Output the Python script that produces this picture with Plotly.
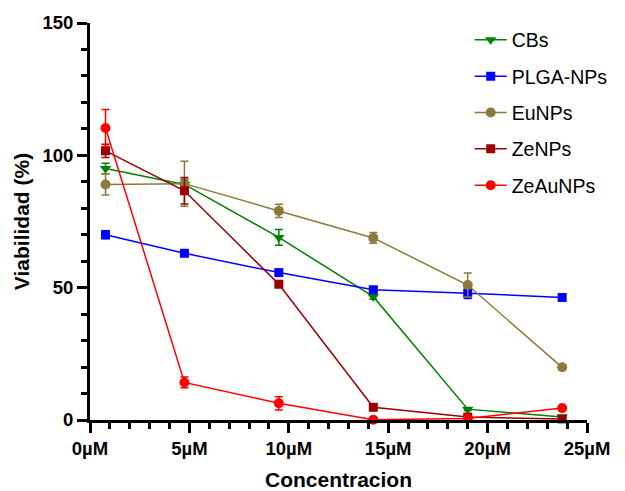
import plotly.graph_objects as go

conc = [0.78, 4.75, 9.5, 14.25, 19.0, 23.75]

series_names = ["CBs", "PLGA-NPs", "EuNPs", "ZeNPs", "ZeAuNPs"]
cbs = [95, 89, 69, 46.6, 4.1, 1.1]
cbs_err = [2, 2, 3, 1, 0.5, 0.5]
plga = [70, 63, 55.7, 49.2, 47.9, 46.3]
plga_err = [1.5, 1, 1, 1, 2, 1]
eunps = [89, 89.3, 79, 68.8, 51, 19.9]
eunps_err = [4, 8.5, 2.5, 2, 4.5, 1]
zenps = [101.7, 86.6, 51.3, 4.8, 1.1, 0.4]
zenps_err = [2.5, 5, 1, 0.5, 0.5, 0.3]
zeau = [110.3, 14.2, 6.3, 0.1, 0.6, 4.5]
zeau_err = [7, 2, 2.5, 0.3, 0.3, 0.5]

x_tickvals = [0, 5, 10, 15, 20, 25]
x_ticktext = ["0µM", "5µM", "10µM", "15µM", "20µM", "25µM"]
y_tickvals = [0, 50, 100, 150]

colors = ["#008000", "#0000FF", "#8C7A3C", "#990000", "#FF0000"]
symbols = ["triangle-down", "square", "circle", "square", "circle"]
values = [cbs, plga, eunps, zenps, zeau]
errors = [cbs_err, plga_err, eunps_err, zenps_err, zeau_err]

fig = go.Figure()
for name, vals, errs, col, sym in zip(series_names, values, errors, colors, symbols):
    fig.add_trace(go.Scatter(
        x=conc, y=vals, name=name, mode="lines+markers",
        line=dict(color=col, width=1.5),
        marker=dict(color=col, symbol=sym, size=10 if sym != "square" else 9),
        error_y=dict(type="data", array=errs, visible=True, color=col, thickness=1.5, width=4),
        cliponaxis=False, legendgroup=name,
    ))

font_family = "Liberation Sans, Arial, sans-serif"
fig.update_layout(
    width=625, height=491,
    margin=dict(l=90, r=36, t=23, b=71),
    paper_bgcolor="white", plot_bgcolor="white",
    font=dict(family=font_family, color="black"),
    showlegend=True,
    legend=dict(x=0.764, y=1.006, xanchor="left", yanchor="top", xref="paper", yref="paper",
                font=dict(size=19.5, color="black"), bgcolor="rgba(0,0,0,0)",
                tracegroupgap=8, itemwidth=32),
    xaxis=dict(
        range=[0, 25], tickvals=x_tickvals, ticktext=x_ticktext,
        showgrid=False, zeroline=False, showline=True, linecolor="black", linewidth=3,
        ticks="outside", ticklen=10, tickwidth=3, tickcolor="black",
        tickfont=dict(size=18.5, family=font_family, weight="bold"),
        minor=dict(dtick=1, ticks="outside", ticklen=6, tickwidth=3, tickcolor="black"),
        title=dict(text="Concentracion", font=dict(size=21, weight="bold"), standoff=16),
        automargin=False,
    ),
    yaxis=dict(
        range=[0, 150], tickvals=y_tickvals,
        showgrid=False, zeroline=False, showline=True, linecolor="black", linewidth=3,
        ticks="outside", ticklen=10, tickwidth=3, tickcolor="black",
        tickfont=dict(size=18.5, family=font_family, weight="bold"),
        minor=dict(dtick=10, ticks="outside", ticklen=6, tickwidth=3, tickcolor="black"),
        title=dict(text="Viabilidad (%)", font=dict(size=21, weight="bold"), standoff=8),
        automargin=False,
    ),
)

fig.write_html("out.html")
